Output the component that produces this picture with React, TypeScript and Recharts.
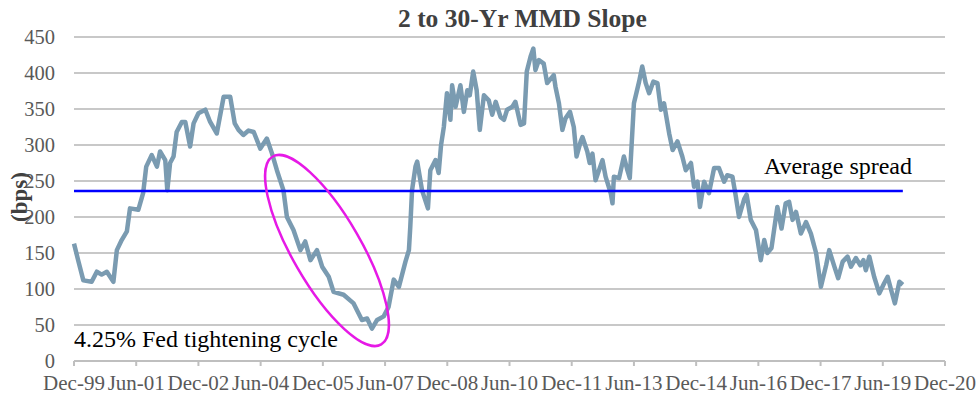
import { LineChart, Line, XAxis, YAxis, CartesianGrid, ReferenceDot } from "recharts";

// months since Dec-99 and the 2s-30s MMD spread (bps) at each reading
const monthOffsets = [
  0, 1.2, 2.7, 5.1, 6.6, 8, 9.5, 11.4, 12.4, 13.8, 15.3, 16.2, 18.6, 20, 20.9, 22.5, 24, 24.9, 26.4, 27,
  27.8, 28.8, 29.7, 31.2, 32.2, 33.6, 34.6, 36, 38, 39.4, 41.3, 43.3, 45.2, 46.5, 47.6, 49, 50.5, 52, 53.9, 55.8,
  57.3, 58.7, 60.6, 61.6, 63.5, 65.5, 66.9, 68.4, 70.3, 71.8, 73.7, 75.1, 78, 80.9, 83.3, 84.8, 86.2, 87.7, 89.6, 91,
  92.5, 94, 95.9, 96.9, 97.3, 97.8, 98.8, 99.3, 100.7, 102.4, 103.1, 104.6, 105.5, 106.2, 107, 107.9, 108.9, 109.4, 110.4, 111.8,
  112.8, 113.8, 114.5, 115.5, 116.5, 117.4, 118.6, 120, 121, 122, 123.4, 124.4, 125.3, 126.8, 127.7, 129.2, 130.2, 131, 132.1, 132.9,
  133.5, 134.5, 135.9, 136.9, 138.8, 139.3, 140.3, 141.3, 142.2, 143.5, 144.6, 145.4, 146.6, 147.1, 148.5, 149.2, 150, 150.9, 152.9, 153.8,
  155.3, 155.8, 156.2, 157.7, 159.1, 160.1, 160.8, 162, 163.5, 164.4, 165.4, 166.4, 167.6, 168.8, 169.8, 170.7, 172.2, 173.2, 174.6, 176,
  177, 178.5, 179.4, 180.4, 181.1, 182.3, 183.7, 185.2, 186.6, 188.1, 189, 190.5, 191.5, 192.4, 193.9, 194.6, 195.8, 197.3, 198.7, 199.7,
  200.6, 201.8, 203.5, 204.7, 205.9, 206.9, 207.9, 208.9, 210.3, 211.8, 213.2, 214.7, 216.1, 217.6, 218.5, 220, 221.1, 222.4, 223.8, 224.8,
  226.2, 227.5, 228.4, 229.1, 230.1, 231.5, 233, 234.4, 235.4, 236.4, 237.5, 238.8, 239.8,
];

const slopeBps = [
  163, 140, 112, 110, 124, 120, 124, 110, 154, 168, 180, 212, 210, 233, 270, 286, 270, 291, 279, 237,
  275, 284, 318, 332, 332, 298, 330, 344, 349, 332, 316, 367, 367, 330, 321, 314, 320, 318, 295, 309,
  288, 265, 237, 200, 182, 154, 166, 140, 154, 131, 117, 96, 92, 80, 57, 59, 45, 57, 62, 75,
  113, 103, 138, 154, 187, 237, 270, 277, 237, 212, 265, 279, 261, 300, 325, 372, 335, 383, 353, 383,
  346, 376, 369, 402, 376, 321, 369, 362, 342, 360, 339, 335, 349, 353, 360, 328, 330, 402, 423, 434,
  404, 418, 413, 386, 397, 381, 358, 321, 337, 346, 325, 284, 305, 311, 291, 275, 288, 251, 279, 256,
  233, 219, 256, 254, 284, 265, 254, 358, 388, 409, 386, 372, 388, 386, 349, 358, 316, 293, 305, 284,
  265, 275, 242, 249, 214, 249, 233, 268, 268, 249, 258, 256, 228, 200, 225, 231, 196, 182, 140, 168,
  150, 157, 214, 184, 219, 221, 196, 207, 177, 193, 177, 150, 103, 133, 154, 131, 115, 138, 145, 131,
  143, 133, 140, 126, 145, 117, 94, 108, 117, 99, 80, 110, 106,
];

const avgSpread = 236;

const xTickMonths = [0, 18, 36, 54, 72, 90, 108, 126, 144, 162, 180, 198, 216, 234, 252];
const xTickLabels = [
  "Dec-99", "Jun-01", "Dec-02", "Jun-04", "Dec-05", "Jun-07", "Dec-08", "Jun-10",
  "Dec-11", "Jun-13", "Dec-14", "Jun-16", "Dec-17", "Jun-19", "Dec-20",
];
const yTicks = [0, 50, 100, 150, 200, 250, 300, 350, 400, 450];

const rows = monthOffsets.map((m, i) => ({ m, slope: slopeBps[i], avg: avgSpread }));

const FONT = '"Liberation Serif", "Times New Roman", serif';
const xTickStyle = { fontSize: 21, fill: "#595959", fontFamily: FONT };
const yTickStyle = { fontSize: 20.5, fill: "#595959", fontFamily: FONT };

export default function App() {
  return (
    <div
      style={{
        position: "absolute",
        left: 0,
        top: 0,
        width: 976,
        height: 396,
        background: "#fff",
        fontFamily: FONT,
      }}
    >
      <style>{`.recharts-wrapper text { font-family: ${FONT}; }`}</style>
      <div
        style={{
          position: "absolute",
          left: 398,
          top: 6,
          fontSize: 25.5,
          lineHeight: "25px",
          fontWeight: "bold",
          color: "#404040",
          whiteSpace: "nowrap",
        }}
      >
        2 to 30-Yr MMD Slope
      </div>
      <div
        style={{
          position: "absolute",
          left: 19,
          top: 197,
          transform: "translate(-50%, -50%) rotate(-90deg)",
          fontSize: 23,
          lineHeight: "23px",
          fontWeight: "bold",
          color: "#404040",
          whiteSpace: "nowrap",
        }}
      >
        (bps)
      </div>
      <LineChart
        width={976}
        height={396}
        data={rows}
        margin={{ top: 37, right: 31, bottom: 0, left: 0 }}
      >
        <CartesianGrid vertical={false} stroke="#c8c8c8" strokeWidth={2} />
        <XAxis
          type="number"
          dataKey="m"
          domain={[0, 252]}
          ticks={xTickMonths}
          interval={0}
          tickFormatter={(v) => xTickLabels[xTickMonths.indexOf(v)]}
          tick={xTickStyle}
          tickLine={{ stroke: "#bfbfbf", strokeWidth: 2 }}
          axisLine={{ stroke: "#bfbfbf", strokeWidth: 2 }}
          tickSize={5}
          tickMargin={9}
          height={35}
        />
        <YAxis
          domain={[0, 450]}
          ticks={yTicks}
          width={74}
          axisLine={false}
          tickLine={false}
          tickMargin={13}
          tick={yTickStyle}
        />
        <Line
          dataKey="slope"
          type="linear"
          stroke="#7a9bb1"
          strokeWidth={4.5}
          strokeLinejoin="round"
          dot={false}
          isAnimationActive={false}
        />
        <Line
          dataKey="avg"
          type="linear"
          stroke="#0000ff"
          strokeWidth={2.5}
          dot={false}
          isAnimationActive={false}
        />
        {/* circled tightening period */}
        <ReferenceDot
          x={73.2}
          y={153.5}
          ifOverflow="visible"
          shape={(p: any) => (
            <ellipse
              cx={p.cx}
              cy={p.cy}
              rx={108.5}
              ry={34.3}
              fill="none"
              stroke="#e619e6"
              strokeWidth={2.5}
              transform={`rotate(60 ${p.cx} ${p.cy})`}
            />
          )}
        />
        <ReferenceDot
          x={199.6}
          y={259.7}
          ifOverflow="visible"
          shape={(p: any) => (
            <text x={p.cx} y={p.cy} fontSize={24} fill="#000">
              Average spread
            </text>
          )}
        />
        <ReferenceDot
          x={0}
          y={19.4}
          ifOverflow="visible"
          shape={(p: any) => (
            <text x={p.cx} y={p.cy} fontSize={24} fill="#000">
              4.25% Fed tightening cycle
            </text>
          )}
        />
      </LineChart>
    </div>
  );
}
